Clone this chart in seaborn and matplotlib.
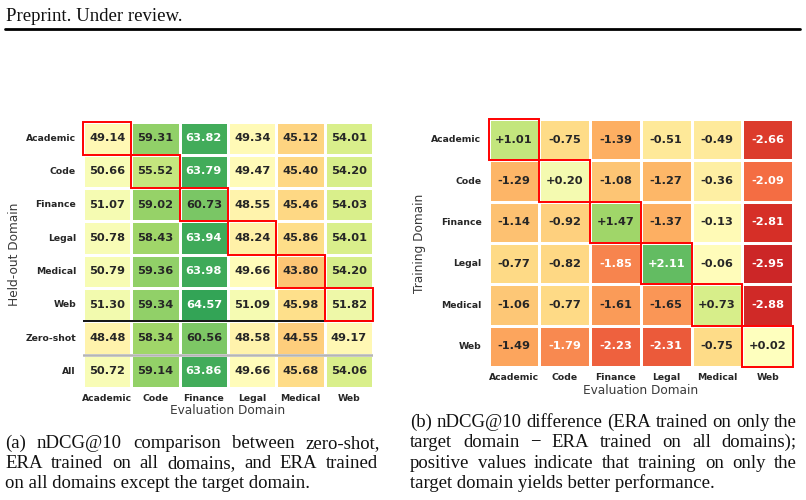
import numpy as np
import pandas as pd
import matplotlib
matplotlib.use("Agg")
import matplotlib.pyplot as plt
import seaborn as sns
from matplotlib.patches import Rectangle

# ---------------- data ----------------
eval_domains = ["Academic", "Code", "Finance", "Legal", "Medical", "Web"]
heldout_rows = ["Academic", "Code", "Finance", "Legal", "Medical", "Web", "Zero-shot", "All"]
train_rows = ["Academic", "Code", "Finance", "Legal", "Medical", "Web"]

held_academic = [49.14, 59.31, 63.82, 49.34, 45.12, 54.01]
held_code = [50.66, 55.52, 63.79, 49.47, 45.40, 54.20]
held_finance = [51.07, 59.02, 60.73, 48.55, 45.46, 54.03]
held_legal = [50.78, 58.43, 63.94, 48.24, 45.86, 54.01]
held_medical = [50.79, 59.36, 63.98, 49.66, 43.80, 54.20]
held_web = [51.30, 59.34, 64.57, 51.09, 45.98, 51.82]
zero_shot = [48.48, 58.34, 60.56, 48.58, 44.55, 49.17]
all_domains = [50.72, 59.14, 63.86, 49.66, 45.68, 54.06]

diff_academic = [1.01, -0.75, -1.39, -0.51, -0.49, -2.66]
diff_code = [-1.29, 0.20, -1.08, -1.27, -0.36, -2.09]
diff_finance = [-1.14, -0.92, 1.47, -1.37, -0.13, -2.81]
diff_legal = [-0.77, -0.82, -1.85, 2.11, -0.06, -2.95]
diff_medical = [-1.06, -0.77, -1.61, -1.65, 0.73, -2.88]
diff_web = [-1.49, -1.79, -2.23, -2.31, -0.75, 0.02]

header_text = "Preprint. Under review."
caption_a = ["(a) nDCG@10 comparison between zero-shot,",
             "ERA trained on all domains, and ERA trained",
             "on all domains except the target domain."]
caption_b = ["(b) nDCG@10 difference (ERA trained on only the",
             "target domain \u2212 ERA trained on all domains);",
             "positive values indicate that training on only the",
             "target domain yields better performance."]

# ---------------- style ----------------
sns.set_theme(style="white")
plt.rcParams["font.family"] = ["DejaVu Sans"]

W, H = 806, 500
fig = plt.figure(figsize=(W / 100, H / 100), dpi=100)


def px_axes(x0, y0, x1, y1):
    return fig.add_axes([x0 / W, 1 - y1 / H, (x1 - x0) / W, (y1 - y0) / H])


df_left = pd.DataFrame([held_academic, held_code, held_finance, held_legal,
                        held_medical, held_web, zero_shot, all_domains],
                       index=heldout_rows, columns=eval_domains)
df_right = pd.DataFrame([diff_academic, diff_code, diff_finance, diff_legal,
                         diff_medical, diff_web],
                        index=train_rows, columns=eval_domains)

annot_kws = {"size": 8.2, "weight": "bold"}

# ---------------- left heatmap ----------------
axL = px_axes(83, 121.5, 373, 388)
sns.heatmap(df_left, ax=axL, cmap="RdYlGn", vmin=30, vmax=70, annot=True,
            fmt=".2f", annot_kws=annot_kws, cbar=False, linewidths=0.8,
            linecolor="white")
axL.axhline(6, color="black", lw=1.3)
axL.axhline(7, color="#b5b5b5", lw=1.8)
for i in range(6):
    axL.add_patch(Rectangle((i, i), 1, 1, fill=False, ec="red", lw=1.4,
                            clip_on=False, zorder=5))
axL.set_xlabel("Evaluation Domain", fontsize=8.7, color="#3a3a3a", labelpad=1)
axL.set_ylabel("Held-out Domain", fontsize=8.7, color="#3a3a3a", labelpad=3)

# ---------------- right heatmap ----------------
axR = px_axes(488.5, 119, 793, 367)
sns.heatmap(df_right, ax=axR, cmap="RdYlGn", vmin=-3.5, vmax=3.5, annot=True,
            fmt="+.2f", annot_kws=annot_kws, cbar=False, linewidths=0.8,
            linecolor="white")
for i in range(6):
    axR.add_patch(Rectangle((i, i), 1, 1, fill=False, ec="red", lw=1.4,
                            clip_on=False, zorder=5))
axR.set_xlabel("Evaluation Domain", fontsize=8.7, color="#3a3a3a", labelpad=1.5)
axR.set_ylabel("Training Domain", fontsize=8.7, color="#3a3a3a", labelpad=4)

for ax in (axL, axR):
    for lab in ax.get_xticklabels():
        lab.set_rotation(0)
        lab.set_fontsize(6.7)
        lab.set_fontweight("bold")
    for lab in ax.get_yticklabels():
        lab.set_rotation(0)
        lab.set_fontsize(6.7)
        lab.set_fontweight("bold")
    ax.tick_params(axis="both", length=0)
    ax.tick_params(axis="y", pad=5)
    ax.tick_params(axis="x", pad=4)

# ---------------- header, rule & captions ----------------
serif = "Liberation Serif"
renderer = fig.canvas.get_renderer()


def text_width(s, size):
    t = fig.text(0, 0, s, fontsize=size, family=serif)
    w = t.get_window_extent(renderer).width
    t.remove()
    return w


# font size chosen so the tightest justified line still fits with normal spacing
base = 10.0
cap_size = base * 0.995 * (797 - 410) / text_width(caption_b[0], base)


def draw_line(s, x0, x1, baseline, justify):
    if not justify:
        fig.text(x0 / W, 1 - baseline / H, s, fontsize=cap_size, family=serif,
                 color="#111111", va="baseline", ha="left")
        return
    words = s.split(" ")
    widths = [text_width(w, cap_size) for w in words]
    gap = ((x1 - x0) - sum(widths)) / (len(words) - 1)
    x = x0
    for w, wd in zip(words, widths):
        fig.text(x / W, 1 - baseline / H, w, fontsize=cap_size, family=serif,
                 color="#111111", va="baseline", ha="left")
        x += wd + gap


fig.text(6 / W, 1 - 21 / H, header_text, fontsize=cap_size, family=serif,
         color="#111111", va="baseline", ha="left")
fig.add_artist(plt.Line2D([5 / W, 800 / W], [1 - 29.5 / H, 1 - 29.5 / H],
                          color="black", lw=2.0, transform=fig.transFigure))

for k, (line, bl) in enumerate(zip(caption_a, [447.8, 468.0, 488.2])):
    ends = [380, 378, None]
    draw_line(line, 5, ends[k], bl, ends[k] is not None)
for k, (line, bl) in enumerate(zip(caption_b, [426.7, 447.2, 467.6, 487.9])):
    ends = [797, 797, 797, None]
    draw_line(line, 410, ends[k], bl, ends[k] is not None)

fig.savefig("out.png", dpi=100)
